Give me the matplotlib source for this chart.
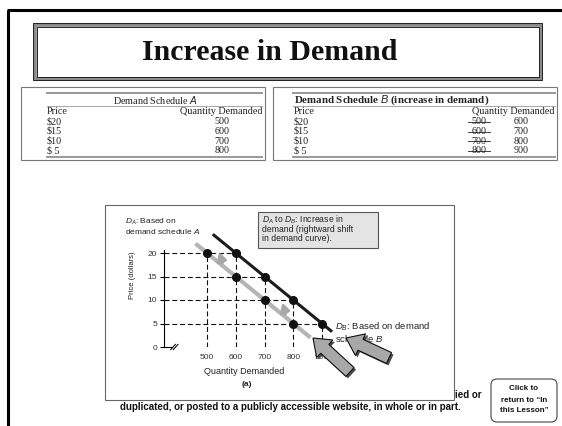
import numpy as np
import matplotlib.pyplot as plt
from matplotlib.patches import Rectangle, FancyBboxPatch, FancyArrow

plt.rcParams['font.family'] = ['Liberation Sans', 'DejaVu Sans']
plt.rcParams['mathtext.fontset'] = 'custom'
plt.rcParams['mathtext.rm'] = 'Liberation Sans'
plt.rcParams['mathtext.it'] = 'Liberation Sans:italic'

# demand schedules A and B
prices = [20, 15, 10, 5]
qty_a = [500, 600, 700, 800]
qty_b = [600, 700, 800, 900]
price_labels = ['$20', '$15', '$10', '$ 5']

# ends of the drawn demand curves
curve_a_q = [460, 860]
curve_a_p = [22.0, 2.0]
curve_b_q = [520, 935]
curve_b_p = [24.0, 3.25]

y_ticks = [0, 5, 10, 15, 20]
x_ticks = [500, 600, 700, 800, 900]

W, H = 562, 426
fig = plt.figure(figsize=(W / 100, H / 100), dpi=100)

# slide layer in pixel units
bg = fig.add_axes([0, 0, 1, 1])
bg.set_xlim(0, W)
bg.set_ylim(H, 0)
bg.axis('off')

bg.plot([7, W], [10, 10], color='k', lw=2.2, solid_capstyle='butt')
bg.plot([8, 8], [10, H], color='k', lw=2.2, solid_capstyle='butt')

# title with double border
bg.add_patch(Rectangle((34.5, 24.5), 506, 54, fill=False, ec='#8a8a8a', lw=2.6))
bg.add_patch(Rectangle((33, 23), 509, 57, fill=False, ec='#222', lw=0.7))
bg.add_patch(Rectangle((36.5, 26.5), 502, 50, fill=False, ec='#222', lw=0.7))
bg.text(269.5, 52, 'Increase in Demand', family='Liberation Serif', weight='bold',
        size=21.5, ha='center', va='center', color='#111')

serif = dict(family='Liberation Serif', size=7.3, color='#222', va='center')

# schedule A table
bg.add_patch(Rectangle((21, 87), 244, 73, fill=False, ec='#777', lw=0.8))
bg.plot([47, 262], [93, 93], color='#999', lw=1.4)
bg.plot([47, 262], [106, 106], color='#999', lw=0.6)
bg.plot([47, 262], [157, 157], color='#999', lw=1.4)
bg.text(155, 100, 'Demand Schedule $A$', ha='center', **serif)
bg.text(47, 112, 'Price', ha='left', **serif)
bg.text(262, 112, 'Quantity Demanded', ha='right', **serif)
row_y = [122, 131.5, 141, 150.5]
for y, lab, q in zip(row_y, price_labels, qty_a):
    bg.text(47, y, lab, ha='left', **serif)
    bg.text(222, y, str(q), ha='center', **serif)

# schedule B table
bg.add_patch(Rectangle((273, 87), 284, 73, fill=False, ec='#777', lw=0.8))
bg.plot([293, 555], [93, 93], color='#999', lw=1.4)
bg.plot([293, 555], [106, 106], color='#999', lw=0.6)
bg.plot([293, 555], [157, 157], color='#999', lw=1.4)
bg.text(294, 100, 'Demand Schedule $B$ (increase in demand)', ha='left',
        weight='bold', **{**serif, 'size': 7.8})
bg.text(294, 112, 'Price', ha='left', **serif)
bg.text(555, 112, 'Quantity Demanded', ha='right', **serif)
for y, lab, qa, qb in zip(row_y, price_labels, qty_a, qty_b):
    bg.text(294, y, lab, ha='left', **serif)
    bg.text(479, y, str(qa), ha='center', **serif)
    bg.plot([468, 490], [y, y], color='#222', lw=0.6)
    bg.text(521, y, str(qb), ha='center', **serif)

# graph panel
bg.add_patch(Rectangle((105, 205), 349, 195, fc='white', ec='#666', lw=0.8))

sans = dict(size=6, color='#222')
bg.text(125, 222, '$D_A$: Based on', ha='left', va='center', **sans)
bg.text(125, 231.5, 'demand schedule $A$', ha='left', va='center', **sans)
bg.add_patch(Rectangle((258, 212), 120, 36, fc='#e4e4e4', ec='#555', lw=0.8))
for y, s in zip([219.5, 229, 238.5], ['$D_A$ to $D_B$: Increase in',
                                      'demand (rightward shift', 'in demand curve).']):
    bg.text(262, y, s, ha='left', va='center', size=6.2, color='#222')
bg.text(335, 327, '$D_B$: Based on demand', ha='left', va='center', size=6.8, color='#222')
bg.text(335, 339, 'schedule $B$', ha='left', va='center', size=6.8, color='#222')
bg.text(132, 275, 'Price (dollars)', rotation=90, ha='center', va='center', size=5.5, color='#222')
bg.text(244, 371, 'Quantity Demanded', ha='center', va='center', size=6.5, color='#222')
bg.text(247, 384, '(a)', ha='center', va='center', weight='bold', size=6, color='#222')

# footer
bg.text(455, 395, 'ied or', ha='left', va='center', weight='bold', size=7, color='#111')
bg.text(290, 407, 'duplicated, or posted to a publicly accessible website, in whole or in part.',
        ha='center', va='center', weight='bold', size=7, color='#111')
bg.add_patch(FancyBboxPatch((491, 379), 66, 43, boxstyle='round,pad=0,rounding_size=6',
                            fc='white', ec='#444', lw=0.8))
for y, s in zip([389, 400, 411], ['Click to', 'return to \u201cIn', 'this Lesson\u201d']):
    bg.text(524, y, s, ha='center', va='center', weight='bold', size=5.8, color='#111')

# demand graph in data units
def px(l, t, r, b):
    return [l / W, 1 - b / H, (r - l) / W, (b - t) / H]

ax = fig.add_axes(px(163.875, 229.5, 350.75, 347))
ax.set_xlim(350, 1000)
ax.set_ylim(0, 25)
ax.patch.set_visible(False)

dash = dict(color='#111', lw=0.8, linestyle=(0, (4.5, 2.5)))
for p, q in zip(prices, qty_b):
    ax.plot([350, q], [p, p], **dash)
tops = {}
for q, p in zip(qty_a + qty_b, prices + prices):
    tops[q] = max(tops.get(q, 0), p)
for q, p in tops.items():
    ax.plot([q, q], [0, p], **dash)

ax.plot(curve_a_q, curve_a_p, color='#b5b5b5', lw=3, solid_capstyle='butt', clip_on=False)
ax.plot(curve_b_q, curve_b_p, color='#1c1c1c', lw=2.2, solid_capstyle='butt', clip_on=False)
ax.plot(qty_a, prices, 'o', color='#111', ms=5.5, zorder=4)
ax.plot(qty_b, prices, 'o', color='#111', ms=5.5, zorder=4)

# shift arrows between the curves
for q, p in [(548, 17.2), (768, 6.4)]:
    ax.annotate('', xy=(q + 34, p + 1.0), xytext=(q, p), zorder=3,
                arrowprops=dict(arrowstyle='-|>,head_width=0.3,head_length=0.45',
                                connectionstyle='arc3,rad=-0.6', color='#a8a8a8',
                                lw=2.2, mutation_scale=10))

for s in ['top', 'right']:
    ax.spines[s].set_visible(False)
ax.spines['left'].set_bounds(0, 20.6)
ax.spines['bottom'].set_bounds(350, 378)
for s in ['left', 'bottom']:
    ax.spines[s].set_linewidth(0.8)
ax.plot([374, 390], [-0.55, 0.55], color='#111', lw=0.8, clip_on=False)
ax.plot([383, 399], [-0.55, 0.55], color='#111', lw=0.8, clip_on=False)

ax.set_yticks(y_ticks)
ax.set_xticks(x_ticks)
ax.tick_params(axis='y', length=3, width=0.8, pad=2, labelsize=6, labelcolor='#333')
ax.tick_params(axis='x', length=0, pad=5, labelsize=6, labelcolor='#333')

# pointer arrows on top of the graph
ov = fig.add_axes([0, 0, 1, 1])
ov.set_xlim(0, W)
ov.set_ylim(H, 0)
ov.axis('off')
for x0, y0, dx, dy in [(350, 372, -37, -34), (389, 358, -43, -20)]:
    ov.add_patch(FancyArrow(x0 + 2, y0 + 2, dx, dy, width=12, head_width=24, head_length=16,
                            length_includes_head=True, fc='#4a4a4a', ec='none'))
    ov.add_patch(FancyArrow(x0, y0, dx, dy, width=12, head_width=24, head_length=16,
                            length_includes_head=True, fc='#a8a8a8', ec='#111', lw=0.8))

fig.savefig('out.png', dpi=100)
